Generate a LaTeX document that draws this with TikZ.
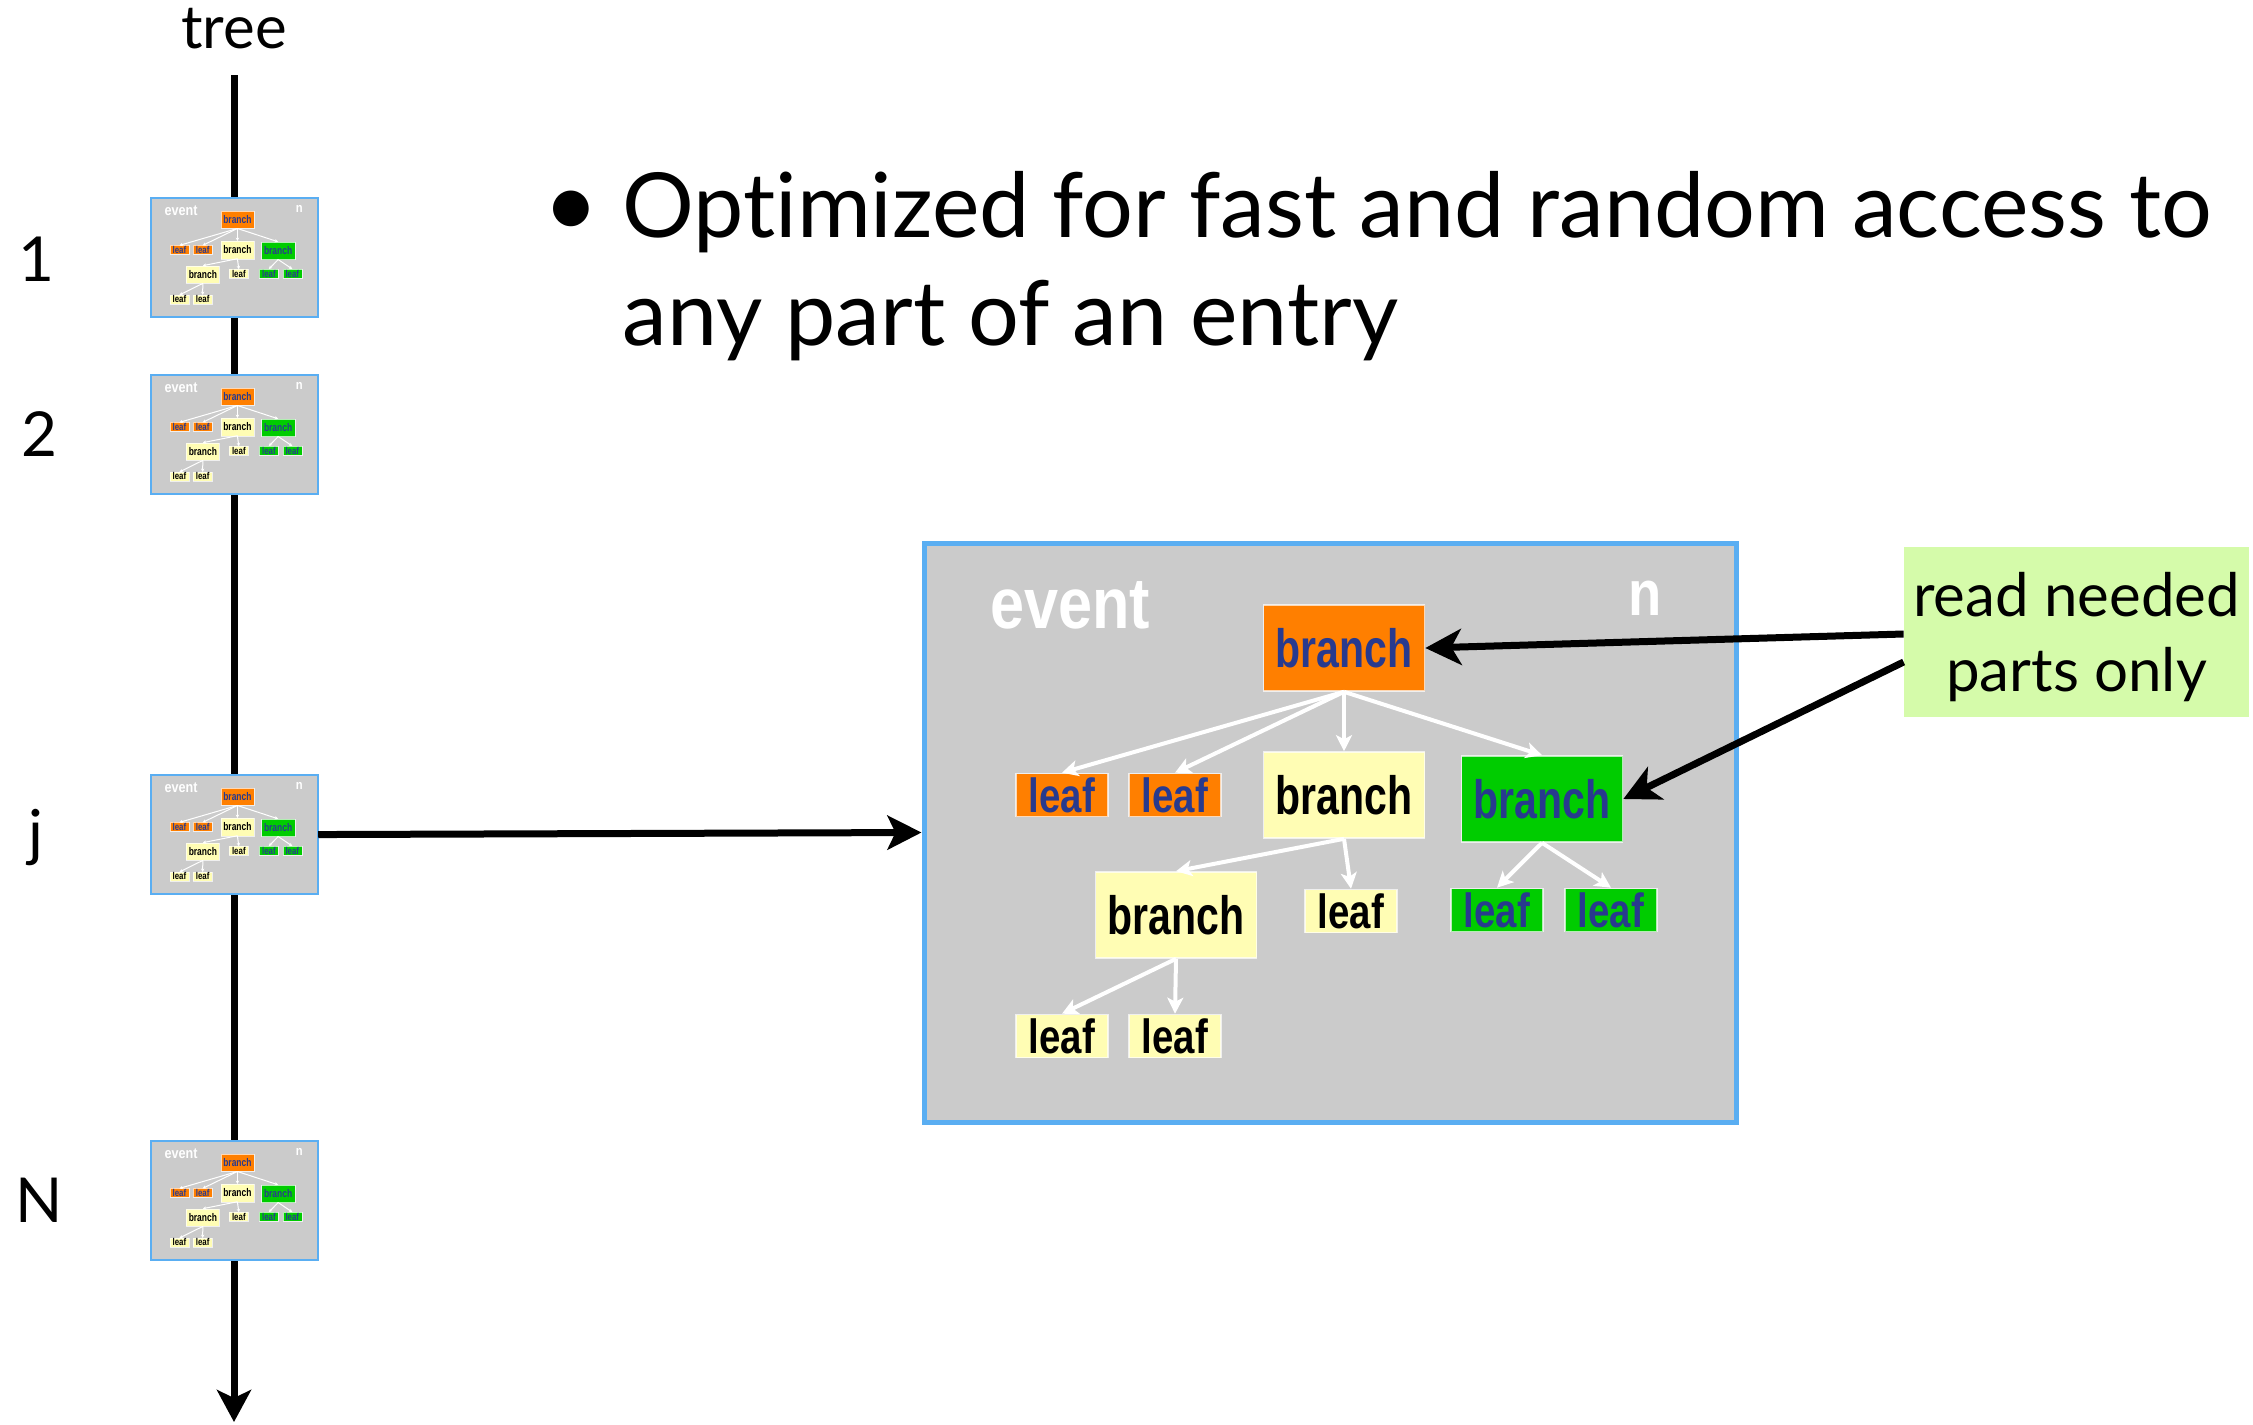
\documentclass[tikz,border=0pt]{standalone}
\usepackage{fontspec}
\usepackage{graphicx}
\setmainfont{Lato}[Ligatures=NoCommon]
\newfontfamily\hv{Liberation Sans}
\usetikzlibrary{arrows.meta}
\definecolor{evgray}{HTML}{CBCBCB}
\definecolor{evblue}{HTML}{5AAEF2}
\definecolor{evorange}{HTML}{FF7F00}
\definecolor{evyellow}{HTML}{FFFDB4}
\definecolor{evgreen}{HTML}{00CC00}
\definecolor{evtext}{HTML}{283A8E}
\definecolor{notegreen}{HTML}{D5FBAA}
\newcommand{\brtext}{\scalebox{0.76}[1]{branch}}
\newcommand{\lftext}{\scalebox{0.8}[1]{leaf}}
\tikzset{
  treebox/.style={inner sep=0pt, transform shape, draw=white, draw opacity=0.7, line width=\evol},
  brnode/.style={treebox, minimum width=80.5pt, minimum height=43pt, font=\hv\bfseries\fontsize{27}{27}\selectfont},
  lfnode/.style={treebox, minimum width=46pt, minimum height=21.5pt, font=\hv\bfseries\fontsize{24}{24}\selectfont},
  orangebox/.style={fill=evorange, text=evtext},
  yellowbox/.style={fill=evyellow, text=black},
  greenbox/.style={fill=evgreen, text=evtext},
  whitearrow/.style={draw=white, line width=\evwl, -{Stealth[length=\eval, width=\eval, inset=\evin]}},
  blackarrow/.style={draw=black, line width=3.5pt, -{Stealth[length=17pt, width=17pt, inset=4pt]}},
  notearrow/.style={draw=black, line width=3.5pt, -{Stealth[length=18pt, width=18pt, inset=5pt]}},
  numlabel/.style={font=\fontsize{31}{31}\selectfont, inner sep=0pt},
  bigtext/.style={anchor=base west, font=\fontsize{44.9}{54}\selectfont, inner sep=0pt},
}
\newcommand{\drawevent}[4]{%
  \pgfmathsetlengthmacro\evbw{max(2.5pt*#4,1pt)}%
  \pgfmathsetlengthmacro\evwl{max(2pt*#4,0.5pt)}%
  \pgfmathsetlengthmacro\eval{8pt*#4}%
  \pgfmathsetlengthmacro\evin{2pt*#4}%
  \pgfmathsetlengthmacro\evol{0.8pt*#4}%
  \begin{scope}[shift={(#2,#3)}, scale=#4]
    \node[draw=evblue, line width=\evbw, fill=evgray, minimum width=406pt, minimum height=289.5pt, inner sep=0pt, transform shape] (#1-box) at (406,289.5) {};
    \node[text=white, font=\hv\bfseries\fontsize{36}{36}\selectfont, transform shape, inner sep=0pt] (#1-ev) at (146,62) {\scalebox{0.85}[1]{event}};
    \node[text=white, font=\hv\bfseries\fontsize{32}{32}\selectfont, transform shape, inner sep=0pt] (#1-n) at (721,55) {\scalebox{0.85}[1]{n}};
    \node[brnode, orangebox] (#1-B0) at (420,105) {\brtext};
    \node[lfnode, orangebox] (#1-L1) at (138,252) {\lftext};
    \node[lfnode, orangebox] (#1-L2) at (251,252) {\lftext};
    \node[brnode, yellowbox] (#1-B1) at (420,252) {\brtext};
    \node[brnode, greenbox] (#1-B2) at (618,256) {\brtext};
    \node[brnode, yellowbox] (#1-B3) at (252,372) {\brtext};
    \node[lfnode, yellowbox] (#1-L3) at (427,368) {\lftext};
    \node[lfnode, greenbox] (#1-L4) at (573,367) {\lftext};
    \node[lfnode, greenbox] (#1-L5) at (687,367) {\lftext};
    \node[lfnode, yellowbox] (#1-L6) at (138,493) {\lftext};
    \node[lfnode, yellowbox] (#1-L7) at (251,493) {\lftext};
    \draw[whitearrow] (#1-B0.south) -- (#1-L1.north);
    \draw[whitearrow] (#1-B0.south) -- (#1-L2.north);
    \draw[whitearrow] (#1-B0.south) -- (#1-B1.north);
    \draw[whitearrow] (#1-B0.south) -- (#1-B2.north);
    \draw[whitearrow] (#1-B1.south) -- (#1-B3.north);
    \draw[whitearrow] (#1-B1.south) -- (#1-L3.north);
    \draw[whitearrow] (#1-B2.south) -- (#1-L4.north);
    \draw[whitearrow] (#1-B2.south) -- (#1-L5.north);
    \draw[whitearrow] (#1-B3.south) -- (#1-L6.north);
    \draw[whitearrow] (#1-B3.south) -- (#1-L7.north);
  \end{scope}}
\begin{document}
\begin{tikzpicture}[x=0.5pt, y=-0.5pt]
  \useasboundingbox (0,0) rectangle (2253,1424);
  \fill[white] (0,0) rectangle (2253,1424);
  \node[font=\fontsize{30}{30}\selectfont, inner sep=0pt] (treelabel) at (234,29) {tree};
  \coordinate (axistop) at (234,75);
  \coordinate (axisend) at (234,1422);
  \draw[line width=3.5pt, -{Stealth[length=16pt, width=17pt, inset=4pt]}] (axistop) -- (axisend);
  \drawevent{t1}{151}{198}{0.2057}
  \drawevent{t2}{151}{375}{0.2057}
  \drawevent{tj}{151}{775}{0.2057}
  \drawevent{tN}{151}{1141}{0.2057}
  \drawevent{big}{924}{543}{1}
  \node[numlabel] (n1) at (36,259) {1};
  \node[numlabel] (n2) at (39,434) {2};
  \node[numlabel] (nj) at (36,838) {j};
  \node[numlabel] (nN) at (39,1200) {N};
  \draw[blackarrow] (tj-box.east) -- (big-box.west);
  \node[anchor=base east, font=\fontsize{48}{54}\selectfont, inner sep=0pt] (bul) at (600,237) {\textbullet};
  \node[bigtext] (line1) at (622,237) {Optimized for fast and random access to};
  \node[bigtext] (line2) at (622,345) {any part of an entry};
  \node[fill=notegreen, minimum width=172.5pt, minimum height=85pt, align=center, font=\fontsize{30}{37.5}\selectfont, inner sep=0pt] (note) at (2076.5,632) {\rule{0pt}{27.6pt}read needed\\parts only};
  \draw[notearrow] ([yshift=-1pt]note.west) -- (big-B0.east);
  \draw[notearrow] ([yshift=-15pt]note.west) -- (big-B2.east);
\end{tikzpicture}
\end{document}
